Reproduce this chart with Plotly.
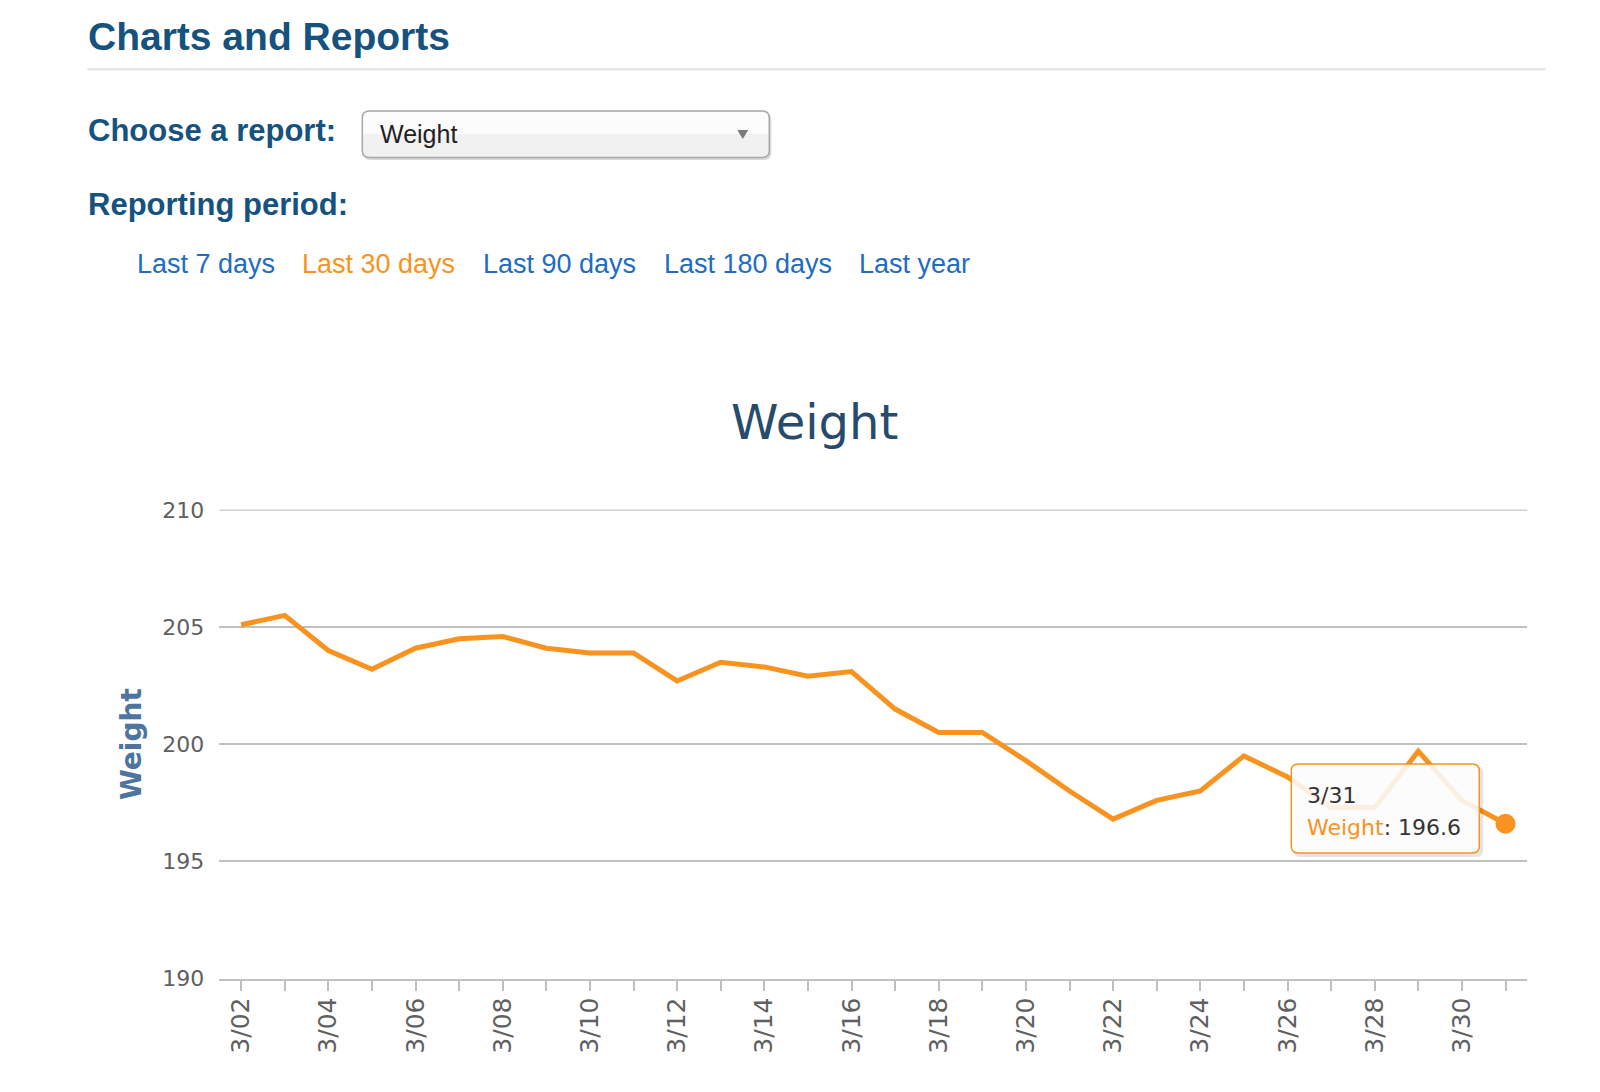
import plotly.graph_objects as go

# ---------------- data ----------------
days = ["3/02", "3/03", "3/04", "3/05", "3/06", "3/07", "3/08", "3/09", "3/10", "3/11",
        "3/12", "3/13", "3/14", "3/15", "3/16", "3/17", "3/18", "3/19", "3/20", "3/21",
        "3/22", "3/23", "3/24", "3/25", "3/26", "3/27", "3/28", "3/29", "3/30", "3/31"]
weights = [205.1, 205.5, 204.0, 203.2, 204.1, 204.5, 204.6, 204.1, 203.9, 203.9,
           202.7, 203.5, 203.3, 202.9, 203.1, 201.5, 200.5, 200.5, 199.3, 198.0,
           196.8, 197.6, 198.0, 199.5, 198.6, 197.3, 197.3, 199.7, 197.6, 196.6]
y_ticks = [190, 195, 200, 205, 210]
periods = ["Last 7 days", "Last 30 days", "Last 90 days", "Last 180 days", "Last year"]
selected_period = "Last 30 days"
report_name = "Weight"

W, H = 1600, 1092
ORANGE = "#f7931e"
HEAD = "#15527e"
LINK = "#1f6cc0"


def px(x):
    return (x - 8.7) / W


def py(y):
    return 1 - (1.024 * y - 19.6) / H


def rounded_rect(x0, y0, x1, y1, r, r_bottom=None):
    rb = r if r_bottom is None else r_bottom
    pts = [
        f"M {px(x0 + r)} {py(y0)}",
        f"L {px(x1 - r)} {py(y0)}",
        f"Q {px(x1)} {py(y0)} {px(x1)} {py(y0 + r)}",
        f"L {px(x1)} {py(y1 - rb)}",
        f"Q {px(x1)} {py(y1)} {px(x1 - rb)} {py(y1)}",
        f"L {px(x0 + rb)} {py(y1)}",
        f"Q {px(x0)} {py(y1)} {px(x0)} {py(y1 - rb)}",
        f"L {px(x0)} {py(y0 + r)}",
        f"Q {px(x0)} {py(y0)} {px(x0 + r)} {py(y0)}",
        "Z",
    ]
    return " ".join(pts)


fig = go.Figure()
fig.add_trace(go.Scatter(
    x=days, y=weights, mode="lines",
    line=dict(color=ORANGE, width=5),
    hoverinfo="skip", showlegend=False,
))
fig.add_trace(go.Scatter(
    x=[days[-1]], y=[weights[-1]], mode="markers",
    marker=dict(color=ORANGE, size=20, line=dict(width=0)),
    hoverinfo="skip", showlegend=False,
))

shapes = []
annotations = []

# top gridline (drawn explicitly so it is not dropped at the plot edge)
shapes.append(dict(type="line", xref="x domain", yref="y",
                   x0=0, x1=1, y0=y_ticks[-1], y1=y_ticks[-1],
                   line=dict(color="#c0c0c0", width=1.5), layer="below"))

# header rule
shapes.append(dict(type="line", xref="paper", yref="paper",
                   x0=px(88), x1=px(1546), y0=py(68.4), y1=py(68.4),
                   line=dict(color="#e3e3e3", width=2)))
# dropdown box: shadow, base, light upper half, border
shapes.append(dict(type="path", xref="paper", yref="paper",
                   path=rounded_rect(364, 112, 772, 159, 7),
                   fillcolor="#dadada", line=dict(width=0), layer="above"))
shapes.append(dict(type="path", xref="paper", yref="paper",
                   path=rounded_rect(363, 110, 770, 156.5, 7),
                   fillcolor="#f1f1f1", line=dict(width=0), layer="above"))
shapes.append(dict(type="path", xref="paper", yref="paper",
                   path=rounded_rect(364, 111, 769, 133, 6, 0.01),
                   fillcolor="#fcfcfc", line=dict(width=0), layer="above"))
shapes.append(dict(type="path", xref="paper", yref="paper",
                   path=rounded_rect(363, 110, 770, 156.5, 7),
                   fillcolor="rgba(0,0,0,0)", line=dict(color="#a8a8a8", width=1.5),
                   layer="above"))
shapes.append(dict(type="path", xref="paper", yref="paper",
                   path=f"M {px(738)} {py(129)} L {px(749)} {py(129)} L {px(743.5)} {py(138)} Z",
                   fillcolor="#7a7a7a", line=dict(width=0), layer="above"))

# tooltip (shadow + box)
shapes.append(dict(type="path", xref="paper", yref="paper",
                   path=rounded_rect(1294, 764, 1484, 855, 7),
                   fillcolor="rgba(0,0,0,0.10)", line=dict(width=0), layer="above"))
shapes.append(dict(type="path", xref="paper", yref="paper",
                   path=rounded_rect(1292, 762, 1480, 851, 7),
                   fillcolor="rgba(255,255,255,0.87)", line=dict(color=ORANGE, width=1.5),
                   layer="above"))

# header texts
annotations.append(dict(text="<b>Charts and Reports</b>", x=px(87), y=py(35.7),
                        xref="paper", yref="paper", xanchor="left", yanchor="middle",
                        showarrow=False,
                        font=dict(family="Liberation Sans", size=39, color=HEAD)))
annotations.append(dict(text="<b>Choose a report:</b>", x=px(87), y=py(129.6),
                        xref="paper", yref="paper", xanchor="left", yanchor="middle",
                        showarrow=False,
                        font=dict(family="Liberation Sans", size=31, color=HEAD)))
annotations.append(dict(text="<b>Reporting period:</b>", x=px(87), y=py(203),
                        xref="paper", yref="paper", xanchor="left", yanchor="middle",
                        showarrow=False,
                        font=dict(family="Liberation Sans", size=31, color=HEAD)))
annotations.append(dict(text=report_name, x=px(379), y=py(133),
                        xref="paper", yref="paper", xanchor="left", yanchor="middle",
                        showarrow=False,
                        font=dict(family="Liberation Sans", size=25, color="#222222")))
link_x = [135.7, 301, 481.6, 662.2, 858.2]
for name, lx in zip(periods, link_x):
    annotations.append(dict(text=name, x=px(lx), y=py(263),
                            xref="paper", yref="paper", xanchor="left", yanchor="middle",
                            showarrow=False,
                            font=dict(family="Liberation Sans", size=27,
                                      color=ORANGE if name == selected_period else LINK)))

# chart title and y-axis title
annotations.append(dict(text="Weight", x=px(815), y=py(421),
                        xref="paper", yref="paper", xanchor="center", yanchor="middle",
                        showarrow=False,
                        font=dict(family="DejaVu Sans", size=48, color="#274b6d")))
annotations.append(dict(text="<b>Weight</b>", x=px(132.8), y=py(742), textangle=-90,
                        xref="paper", yref="paper", xanchor="center", yanchor="middle",
                        showarrow=False,
                        font=dict(family="DejaVu Sans", size=28, color="#4d759e")))

# tooltip texts
annotations.append(dict(text=days[-1], x=px(1306), y=py(793),
                        xref="paper", yref="paper", xanchor="left", yanchor="middle",
                        showarrow=False,
                        font=dict(family="DejaVu Sans", size=22, color="#333333")))
annotations.append(dict(text=f"<span style='color:{ORANGE}'>Weight</span>: {weights[-1]:.1f}",
                        x=px(1306), y=py(825),
                        xref="paper", yref="paper", xanchor="left", yanchor="middle",
                        showarrow=False,
                        font=dict(family="DejaVu Sans", size=22, color="#333333")))

fig.update_layout(
    width=W, height=H,
    margin=dict(l=0, r=0, t=0, b=0),
    paper_bgcolor="white", plot_bgcolor="white",
    shapes=shapes, annotations=annotations,
    showlegend=False,
    xaxis=dict(
        domain=[px(220), px(1528)],
        type="category",
        range=[-0.5, len(days) - 0.5],
        tickmode="array", tickvals=days,
        ticktext=[d if i % 2 == 0 else "" for i, d in enumerate(days)],
        tickangle=-90,
        ticks="outside", ticklen=10, tickwidth=1.5, tickcolor="#c0c0c0",
        showline=True, linecolor="#c0c0c0", linewidth=1.5,
        showgrid=False, zeroline=False,
        tickfont=dict(family="DejaVu Sans", size=25, color="#606060"),
        ticklabelstandoff=-3,
    ),
    yaxis=dict(
        domain=[py(976.5), py(508)],
        range=[189.98, 210.02],
        tickmode="array", tickvals=y_ticks,
        ticktext=[str(v) for v in y_ticks],
        showgrid=True, gridcolor="#c0c0c0", gridwidth=1.5,
        zeroline=False, showline=False, ticks="",
        tickfont=dict(family="DejaVu Sans", size=22, color="#606060"),
        ticklabelstandoff=14,
    ),
)

fig.write_html("out.html", config={"displayModeBar": False})
